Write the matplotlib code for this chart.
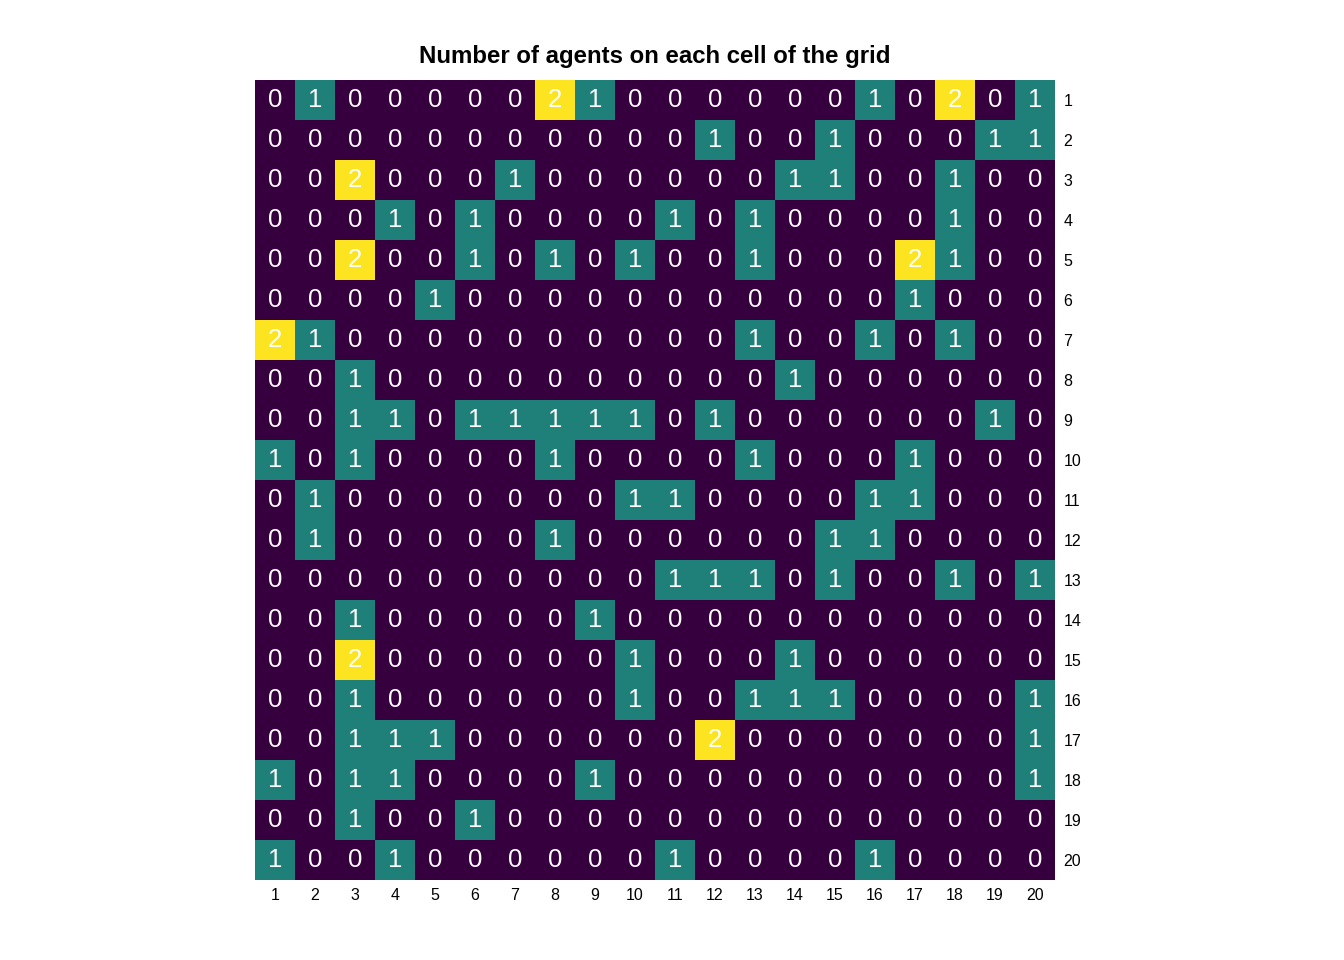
import matplotlib
matplotlib.use("Agg")
import matplotlib.pyplot as plt
from matplotlib.colors import ListedColormap, BoundaryNorm
import numpy as np

plt.rcParams['font.family'] = ['Liberation Sans', 'DejaVu Sans']

title = "Number of agents on each cell of the grid"
col_labels = [str(i) for i in range(1, 21)]
row_labels = [str(i) for i in range(1, 21)]

grid = [
    [0, 1, 0, 0, 0, 0, 0, 2, 1, 0, 0, 0, 0, 0, 0, 1, 0, 2, 0, 1],
    [0, 0, 0, 0, 0, 0, 0, 0, 0, 0, 0, 1, 0, 0, 1, 0, 0, 0, 1, 1],
    [0, 0, 2, 0, 0, 0, 1, 0, 0, 0, 0, 0, 0, 1, 1, 0, 0, 1, 0, 0],
    [0, 0, 0, 1, 0, 1, 0, 0, 0, 0, 1, 0, 1, 0, 0, 0, 0, 1, 0, 0],
    [0, 0, 2, 0, 0, 1, 0, 1, 0, 1, 0, 0, 1, 0, 0, 0, 2, 1, 0, 0],
    [0, 0, 0, 0, 1, 0, 0, 0, 0, 0, 0, 0, 0, 0, 0, 0, 1, 0, 0, 0],
    [2, 1, 0, 0, 0, 0, 0, 0, 0, 0, 0, 0, 1, 0, 0, 1, 0, 1, 0, 0],
    [0, 0, 1, 0, 0, 0, 0, 0, 0, 0, 0, 0, 0, 1, 0, 0, 0, 0, 0, 0],
    [0, 0, 1, 1, 0, 1, 1, 1, 1, 1, 0, 1, 0, 0, 0, 0, 0, 0, 1, 0],
    [1, 0, 1, 0, 0, 0, 0, 1, 0, 0, 0, 0, 1, 0, 0, 0, 1, 0, 0, 0],
    [0, 1, 0, 0, 0, 0, 0, 0, 0, 1, 1, 0, 0, 0, 0, 1, 1, 0, 0, 0],
    [0, 1, 0, 0, 0, 0, 0, 1, 0, 0, 0, 0, 0, 0, 1, 1, 0, 0, 0, 0],
    [0, 0, 0, 0, 0, 0, 0, 0, 0, 0, 1, 1, 1, 0, 1, 0, 0, 1, 0, 1],
    [0, 0, 1, 0, 0, 0, 0, 0, 1, 0, 0, 0, 0, 0, 0, 0, 0, 0, 0, 0],
    [0, 0, 2, 0, 0, 0, 0, 0, 0, 1, 0, 0, 0, 1, 0, 0, 0, 0, 0, 0],
    [0, 0, 1, 0, 0, 0, 0, 0, 0, 1, 0, 0, 1, 1, 1, 0, 0, 0, 0, 1],
    [0, 0, 1, 1, 1, 0, 0, 0, 0, 0, 0, 2, 0, 0, 0, 0, 0, 0, 0, 1],
    [1, 0, 1, 1, 0, 0, 0, 0, 1, 0, 0, 0, 0, 0, 0, 0, 0, 0, 0, 1],
    [0, 0, 1, 0, 0, 1, 0, 0, 0, 0, 0, 0, 0, 0, 0, 0, 0, 0, 0, 0],
    [1, 0, 0, 1, 0, 0, 0, 0, 0, 0, 1, 0, 0, 0, 0, 1, 0, 0, 0, 0],
]

data = np.array(grid)
cmap = ListedColormap(['#36003F', '#1F8079', '#FDE421'])
norm = BoundaryNorm([-0.5, 0.5, 1.5, 2.5], cmap.N)

fig = plt.figure(figsize=(13.44, 9.6), dpi=100)
ax = fig.add_axes([255/1344, 80/960, 800/1344, 800/960])
ax.imshow(data, cmap=cmap, norm=norm, aspect='auto', interpolation='nearest')

nrows, ncols = data.shape
for i in range(nrows):
    for j in range(ncols):
        ax.text(j, i, str(data[i, j]), ha='center', va='center',
                color='white', fontsize=18.5)

ax.set_xticks(range(ncols))
ax.set_xticklabels(col_labels, fontsize=11.5)
ax.set_yticks(range(nrows))
ax.set_yticklabels(row_labels, fontsize=11.5)
ax.yaxis.tick_right()
ax.tick_params(length=0, pad=6)
for s in ax.spines.values():
    s.set_visible(False)
ax.set_title(title, fontsize=17.3, fontweight='bold', pad=12)

fig.savefig("out.png", dpi=100)
